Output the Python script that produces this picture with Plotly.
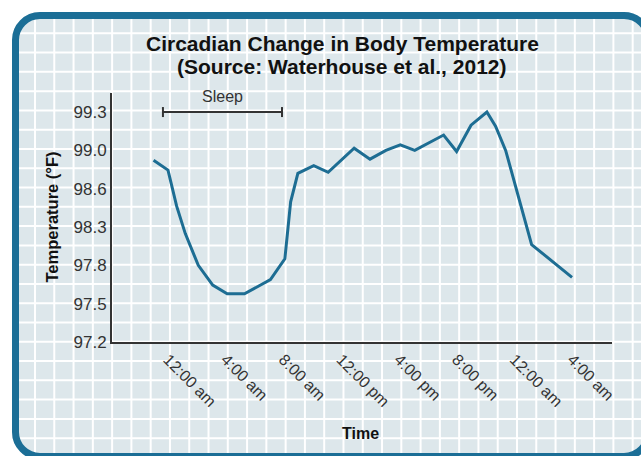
import plotly.graph_objects as go

# Body temperature over ~30 hours (hours after midnight, degrees F on the chart's scale)
hours = [-1.0, 0.0, 0.6, 1.2, 2.1, 3.1, 4.1, 5.3, 7.1, 8.1, 8.5, 9.0, 10.1, 11.1,
         12.9, 14.0, 15.1, 16.1, 17.1, 19.1, 20.0, 21.0, 22.1, 22.7, 23.4, 23.9,
         24.5, 25.2, 28.0]
temps = [98.86, 98.77, 98.44, 98.19, 97.90, 97.72, 97.64, 97.64, 97.77, 97.96,
         98.48, 98.74, 98.81, 98.75, 98.97, 98.87, 98.95, 99.00, 98.95, 99.09,
         98.94, 99.18, 99.30, 99.17, 98.95, 98.71, 98.41, 98.09, 97.79]

x_tick_vals = [0, 4, 8, 12, 16, 20, 24, 28]
x_tick_text = ["12:00 am", "4:00 am", "8:00 am", "12:00 pm", "4:00 pm",
               "8:00 pm", "12:00 am", "4:00 am"]
y_tick_vals = [97.2, 97.55, 97.9, 98.25, 98.6, 98.95, 99.3]
y_tick_text = ["97.2", "97.5", "97.8", "98.3", "98.6", "99.0", "99.3"]

title_lines = ["Circadian Change in Body Temperature",
               "(Source: Waterhouse et al., 2012)"]

sleep_start, sleep_end, sleep_level = -0.35, 7.9, 99.3

W, H = 641, 456
FONT = "Liberation Sans, Arial, Helvetica, sans-serif"
TEAL = "#1b6e96"
CARD = "#dde7eb"
INK = "#333333"


def px(x):
    return x / W


def py(y):
    return 1 - y / H


def rounded_rect(x0, y0, x1, y1, r):
    k = 0.5523 * r
    pts = [
        f"M {px(x0 + r)},{py(y0)}",
        f"L {px(x1 - r)},{py(y0)}",
        f"C {px(x1 - r + k)},{py(y0)} {px(x1)},{py(y0 + r - k)} {px(x1)},{py(y0 + r)}",
        f"L {px(x1)},{py(y1 - r)}",
        f"C {px(x1)},{py(y1 - r + k)} {px(x1 - r + k)},{py(y1)} {px(x1 - r)},{py(y1)}",
        f"L {px(x0 + r)},{py(y1)}",
        f"C {px(x0 + r - k)},{py(y1)} {px(x0)},{py(y1 - r + k)} {px(x0)},{py(y1 - r)}",
        f"L {px(x0)},{py(y0 + r)}",
        f"C {px(x0)},{py(y0 + r - k)} {px(x0 + r - k)},{py(y0)} {px(x0 + r)},{py(y0)}",
        "Z",
    ]
    return " ".join(pts)


shapes = []
# card fill
shapes.append(dict(type="path", xref="paper", yref="paper", layer="below",
                   path=rounded_rect(12, 12, 652, 460, 28),
                   fillcolor=CARD, line=dict(width=0)))
# graph-paper grid
step = 19.28
gx = 35.0
while gx < W + 2:
    shapes.append(dict(type="line", xref="paper", yref="paper", layer="below",
                       x0=px(gx), x1=px(gx), y0=py(19), y1=py(H + 5),
                       line=dict(color="white", width=2)))
    gx += step
gy = 33.3
while gy < H + 2:
    shapes.append(dict(type="line", xref="paper", yref="paper", layer="below",
                       x0=px(19), x1=px(W + 5), y0=py(gy), y1=py(gy),
                       line=dict(color="white", width=2)))
    gy += step
# card border
shapes.append(dict(type="path", xref="paper", yref="paper", layer="below",
                   path=rounded_rect(15.5, 15.5, 648.5, 456.5, 24.5),
                   fillcolor="rgba(0,0,0,0)", line=dict(color=TEAL, width=7)))

# sleep interval bar with end caps
shapes.append(dict(type="line", xref="x", yref="y", x0=sleep_start, x1=sleep_end,
                   y0=sleep_level, y1=sleep_level, line=dict(color=INK, width=2)))
for xe in (sleep_start, sleep_end):
    shapes.append(dict(type="line", xref="x", yref="y", ysizemode="pixel",
                       yanchor=sleep_level, x0=xe, x1=xe, y0=-5, y1=5,
                       line=dict(color=INK, width=2)))

fig = go.Figure()
fig.add_trace(go.Scatter(x=hours, y=temps, mode="lines",
                         line=dict(color="#1d6d93", width=3),
                         hoverinfo="skip", showlegend=False))

fig.add_annotation(x=(sleep_start + sleep_end) / 2, y=sleep_level, xref="x", yref="y",
                   text="Sleep", showarrow=False, yanchor="bottom", yshift=5,
                   font=dict(family=FONT, size=16, color=INK))

# two-line chart title
for line_text, line_y in zip(title_lines, (43, 66)):
    fig.add_annotation(x=px(342), y=py(line_y), xref="paper", yref="paper",
                       text=f"<b>{line_text}</b>", showarrow=False,
                       xanchor="center", yanchor="middle",
                       font=dict(family=FONT, size=21, color="#111111"))

# axis titles
fig.add_annotation(x=px(51.5), y=py(217), xref="paper", yref="paper",
                   text="<b>Temperature (°F)</b>", textangle=-90, showarrow=False,
                   xanchor="center", yanchor="middle",
                   font=dict(family=FONT, size=16.5, color="#111111"))
fig.add_annotation(x=px(360), y=py(433), xref="paper", yref="paper",
                   text="<b>Time</b>", showarrow=False,
                   xanchor="center", yanchor="middle",
                   font=dict(family=FONT, size=16, color="#111111"))

fig.update_layout(
    width=W, height=H,
    margin=dict(l=0, r=0, t=0, b=0),
    paper_bgcolor="white",
    plot_bgcolor="rgba(0,0,0,0)",
    shapes=shapes,
    xaxis=dict(domain=[112 / W, 612 / W], range=[-3.88, 30.77],
               tickvals=x_tick_vals, ticktext=x_tick_text, tickangle=45,
               showgrid=False, zeroline=False, showline=True,
               linecolor=INK, linewidth=2, ticks="", automargin=False,
               tickfont=dict(family=FONT, size=16, color=INK)),
    yaxis=dict(domain=[(H - 342) / H, (H - 93) / H], range=[97.2, 99.474],
               tickvals=y_tick_vals, ticktext=y_tick_text,
               showgrid=False, zeroline=False, showline=True,
               linecolor=INK, linewidth=2, ticks="", automargin=False,
               ticklabelstandoff=0,
               tickfont=dict(family=FONT, size=17, color=INK)),
)

fig.write_html("out.html")
